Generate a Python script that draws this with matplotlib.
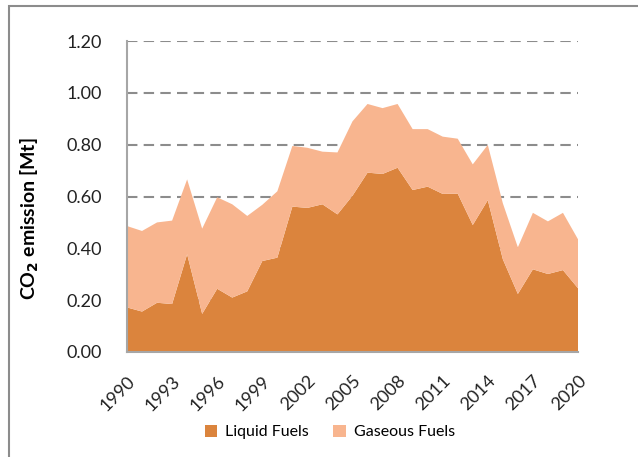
import matplotlib.pyplot as plt
from matplotlib.patches import Rectangle

years = list(range(1990, 2021))
liquid = [0.172, 0.156, 0.190, 0.185, 0.377, 0.147, 0.244, 0.210, 0.234, 0.351,
          0.364, 0.561, 0.556, 0.570, 0.531, 0.603, 0.692, 0.687, 0.711, 0.625,
          0.638, 0.610, 0.611, 0.490, 0.586, 0.358, 0.224, 0.319, 0.301, 0.316,
          0.246]
total = [0.486, 0.467, 0.500, 0.507, 0.666, 0.476, 0.597, 0.570, 0.525, 0.568,
         0.620, 0.795, 0.788, 0.773, 0.770, 0.890, 0.957, 0.941, 0.957, 0.860,
         0.860, 0.831, 0.823, 0.724, 0.799, 0.574, 0.404, 0.537, 0.504, 0.537,
         0.435]
gaseous = [t - l for t, l in zip(total, liquid)]

tick_years = years[::3]
liquid_color = '#DB843D'
gas_color = '#F8B58F'

plt.rcParams['font.family'] = ['Lato', 'DejaVu Sans']

fig = plt.figure(figsize=(6.38, 4.57), dpi=100)
ax = fig.add_axes([127 / 638, 1 - 352 / 457, 451 / 638, 311 / 457])

# Rahmen um das Diagramm
fig.patches.append(Rectangle((9 / 638, -0.1), 1.2, 1 - 6 / 457 + 0.1,
                             transform=fig.transFigure, fill=False,
                             edgecolor='#8C8C8C', linewidth=1.5))

ax.stackplot(years, liquid, gaseous, colors=[liquid_color, gas_color],
             labels=['Liquid Fuels', 'Gaseous Fuels'], zorder=2)

ax.set_xlim(1990, 2020)
ax.set_ylim(0, 1.2)
ax.set_yticks([0, 0.2, 0.4, 0.6, 0.8, 1.0, 1.2])
ax.set_yticklabels([f'{v:.2f}' for v in [0, 0.2, 0.4, 0.6, 0.8, 1.0, 1.2]])
ax.set_xticks(tick_years)
ax.set_xticklabels([str(y) for y in tick_years], rotation=45, ha='right',
                   rotation_mode='anchor')
ax.tick_params(axis='both', length=0, labelsize=13, colors='#222222')
ax.tick_params(axis='y', pad=18)
ax.tick_params(axis='x', pad=15)

ax.grid(axis='y', color='#8C8C8C', linestyle=(0, (5, 3)), linewidth=1.5, zorder=0)
ax.set_axisbelow(True)
for s in ['top', 'right']:
    ax.spines[s].set_visible(False)
for s in ['left', 'bottom']:
    ax.spines[s].set_color('#A6A6A6')
    ax.spines[s].set_linewidth(1.5)
    ax.spines[s].set_zorder(3)

ax.set_ylabel(r'CO$_\mathbf{2}$ emission [Mt]', fontsize=14, fontweight='bold')
ax.yaxis.set_label_coords(-0.19, 0.43)

fig.legend(loc='center', bbox_to_anchor=(0.517, 1 - 432 / 457), ncol=2, frameon=False,
           fontsize=11.5, handlelength=0.8, handleheight=0.8, columnspacing=1.5,
           handletextpad=0.5)

fig.savefig('out.png', dpi=100)
